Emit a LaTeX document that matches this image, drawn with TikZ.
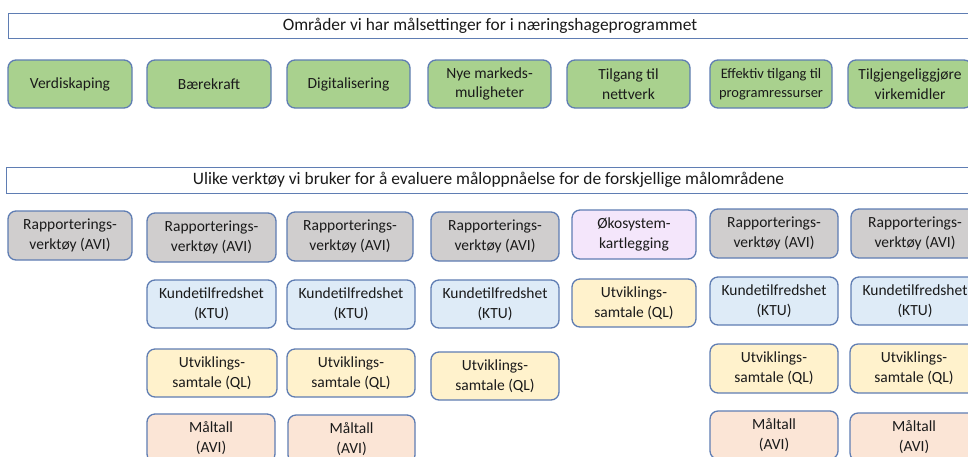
\documentclass[tikz,border=0pt]{standalone}
\usepackage{fontspec}
\setmainfont{Carlito}
\definecolor{edge}{HTML}{5F7DB3}
\definecolor{txt}{HTML}{1A1A1A}
\definecolor{fgreen}{HTML}{A9D18E}
\definecolor{fgrey}{HTML}{D0CECE}
\definecolor{fblue}{HTML}{DEEBF7}
\definecolor{fyellow}{HTML}{FFF2CC}
\definecolor{fpeach}{HTML}{FBE5D6}
\definecolor{fpurple}{HTML}{F4E6FB}
\tikzset{
  boxbase/.style={draw=edge, line width=1.3pt, rounded corners=8pt, align=center,
    text=txt, inner sep=0pt, font=\fontsize{15.5}{19.7}\selectfont},
  greenbox/.style={boxbase, fill=fgreen},
  greybox/.style={boxbase, fill=fgrey},
  bluebox/.style={boxbase, fill=fblue},
  yellowbox/.style={boxbase, fill=fyellow},
  peachbox/.style={boxbase, fill=fpeach},
  purplebox/.style={boxbase, fill=fpurple},
  banner/.style={draw=edge, line width=1pt, fill=white, text=txt, inner sep=0pt,
    font=\fontsize{17.4}{20}\selectfont},
}
\begin{document}
\begin{tikzpicture}[x=1pt,y=-1pt]
\useasboundingbox (0,0) rectangle (968,456);
\clip (0,0) rectangle (968,456);
\fill[white] (0,0) rectangle (968,456);
% banners
\node[banner, minimum width=964pt, minimum height=25pt] (ban1) at (490,25.5) {Områder vi har målsettinger for i næringshageprogrammet};
\node[banner, minimum width=965pt, minimum height=26pt] (ban2) at (488.5,180) {Ulike verktøy vi bruker for å evaluere måloppnåelse for de forskjellige målområdene};
% goals
\node[greenbox, minimum width=124pt, minimum height=48pt] (g1) at (70,84) {Verdiskaping};
\node[greenbox, minimum width=124pt, minimum height=48pt] (g2) at (209,84) {Bærekraft};
\node[greenbox, minimum width=123pt, minimum height=48pt] (g3) at (348.5,84) {Digitalisering};
\node[greenbox, minimum width=123pt, minimum height=48pt] (g4) at (489.5,84) {Nye markeds-\\muligheter};
\node[greenbox, minimum width=123pt, minimum height=48pt] (g5) at (628.5,84) {Tilgang til\\nettverk};
\node[greenbox, minimum width=122pt, minimum height=48pt, font=\fontsize{14.5}{19}\selectfont] (g6) at (771,84) {Effektiv tilgang til\\programressurser};
\node[greenbox, minimum width=124pt, minimum height=48pt] (g7) at (910,84) {Tilgjengeliggjøre\\virkemidler};
% row A
\node[greybox, minimum width=124pt, minimum height=49pt] (a1) at (70,235.5) {Rapporterings-\\verktøy (AVI)};
\node[greybox, minimum width=129pt, minimum height=49pt] (a2) at (211.5,237.5) {Rapporterings-\\verktøy (AVI)};
\node[greybox, minimum width=126pt, minimum height=49pt] (a3) at (350,236.5) {Rapporterings-\\verktøy (AVI)};
\node[greybox, minimum width=128pt, minimum height=49pt] (a4) at (495,236.5) {Rapporterings-\\verktøy (AVI)};
\node[purplebox, minimum width=124pt, minimum height=49pt] (a5) at (634,234.5) {Økosystem-\\kartlegging};
\node[greybox, minimum width=128pt, minimum height=49pt] (a6) at (774,233.5) {Rapporterings-\\verktøy (AVI)};
\node[greybox, minimum width=128pt, minimum height=49pt] (a7) at (915,233.5) {Rapporterings-\\verktøy (AVI)};
% row B
\node[bluebox, minimum width=129pt, minimum height=48pt] (b2) at (211.5,304) {Kundetilfredshet\\(KTU)};
\node[bluebox, minimum width=128pt, minimum height=49pt] (b3) at (351,304.5) {Kundetilfredshet\\(KTU)};
\node[bluebox, minimum width=128pt, minimum height=48pt] (b4) at (495,304) {Kundetilfredshet\\(KTU)};
\node[yellowbox, minimum width=124pt, minimum height=48pt] (b5) at (634,303) {Utviklings-\\samtale (QL)};
\node[bluebox, minimum width=128pt, minimum height=48pt] (b6) at (774,301) {Kundetilfredshet\\(KTU)};
\node[bluebox, minimum width=128pt, minimum height=48pt] (b7) at (915,301) {Kundetilfredshet\\(KTU)};
% row C
\node[yellowbox, minimum width=130pt, minimum height=48pt] (c2) at (212,373) {Utviklings-\\samtale (QL)};
\node[yellowbox, minimum width=128pt, minimum height=48pt] (c3) at (351,373) {Utviklings-\\samtale (QL)};
\node[yellowbox, minimum width=128pt, minimum height=48pt] (c4) at (495,376) {Utviklings-\\samtale (QL)};
\node[yellowbox, minimum width=128pt, minimum height=49pt] (c6) at (774,368.5) {Utviklings-\\samtale (QL)};
\node[yellowbox, minimum width=128pt, minimum height=49pt] (c7) at (914,368.5) {Utviklings-\\samtale (QL)};
% row D
\node[peachbox, minimum width=128pt, minimum height=48pt] (d2) at (211,438) {Måltall\\(AVI)};
\node[peachbox, minimum width=127pt, minimum height=48pt] (d3) at (351.5,439) {Måltall\\(AVI)};
\node[peachbox, minimum width=128pt, minimum height=48pt] (d6) at (774,435) {Måltall\\(AVI)};
\node[peachbox, minimum width=128pt, minimum height=48pt] (d7) at (914,437) {Måltall\\(AVI)};
\end{tikzpicture}
\end{document}
